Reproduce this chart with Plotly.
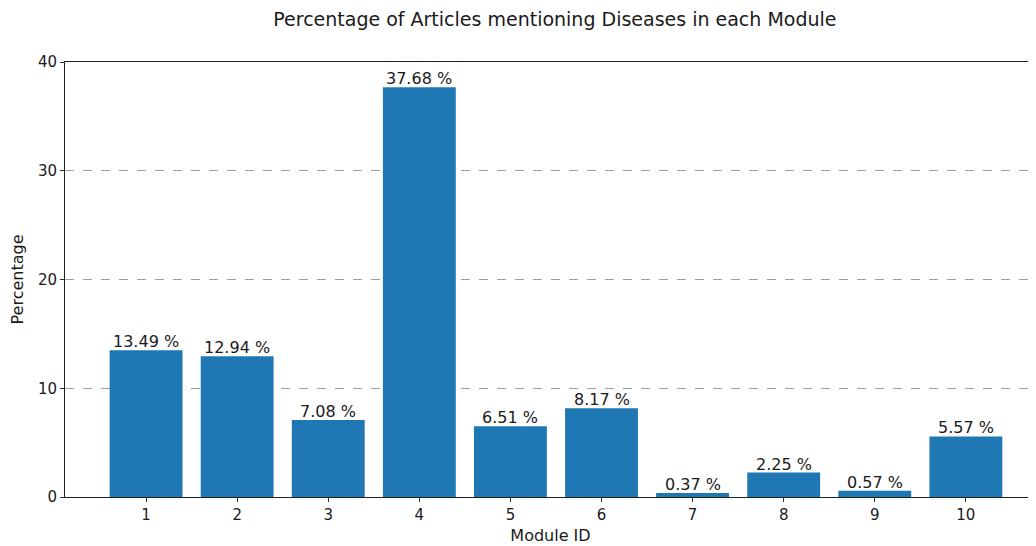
import plotly.graph_objects as go

modules = [1, 2, 3, 4, 5, 6, 7, 8, 9, 10]
percentages = [13.49, 12.94, 7.08, 37.68, 6.51, 8.17, 0.37, 2.25, 0.57, 5.57]
labels = [f"{v:.2f} %" for v in percentages]

fig = go.Figure()
fig.add_trace(go.Bar(
    x=modules, y=percentages, width=0.8,
    marker=dict(color="#1f77b4", line=dict(width=0)),
))

for m, v, t in zip(modules, percentages, labels):
    fig.add_annotation(x=m, y=v, text=t, showarrow=False,
                       xanchor="center", yanchor="bottom", yshift=-3,
                       font=dict(size=16, color="#1a1a1a", family="DejaVu Sans"))

fig.update_layout(
    width=1028, height=538,
    margin=dict(l=57, r=0, t=54, b=49),
    paper_bgcolor="white", plot_bgcolor="white",
    font=dict(family="DejaVu Sans", size=16, color="#1a1a1a"),
    title=dict(text="Percentage of Articles mentioning Diseases in each Module",
               x=0.532, xanchor="center", y=0.978, yanchor="middle",
               font=dict(size=19, color="#1a1a1a")),
    showlegend=False,
    bargap=0.2,
)
fig.update_xaxes(
    range=[0.11, 10.77], tickmode="array", tickvals=modules,
    ticks="outside", ticklen=4, tickcolor="#333333",
    showline=True, linecolor="#222222", linewidth=1, mirror=True,
    showgrid=False, zeroline=False,
    title=dict(text="Module ID", font=dict(size=16), standoff=6),
    tickfont=dict(size=15),
)
fig.update_yaxes(
    range=[0, 40], tickvals=[0, 10, 20, 30, 40],
    ticks="outside", ticklen=4, tickcolor="#333333",
    showline=True, linecolor="#222222", linewidth=1, mirror=False,
    showgrid=True, gridcolor="#8fa3a3", griddash="dash", gridwidth=1,
    zeroline=False,
    title=dict(text="Percentage", font=dict(size=16), standoff=10),
    tickfont=dict(size=15),
)

fig.write_html("out.html")
